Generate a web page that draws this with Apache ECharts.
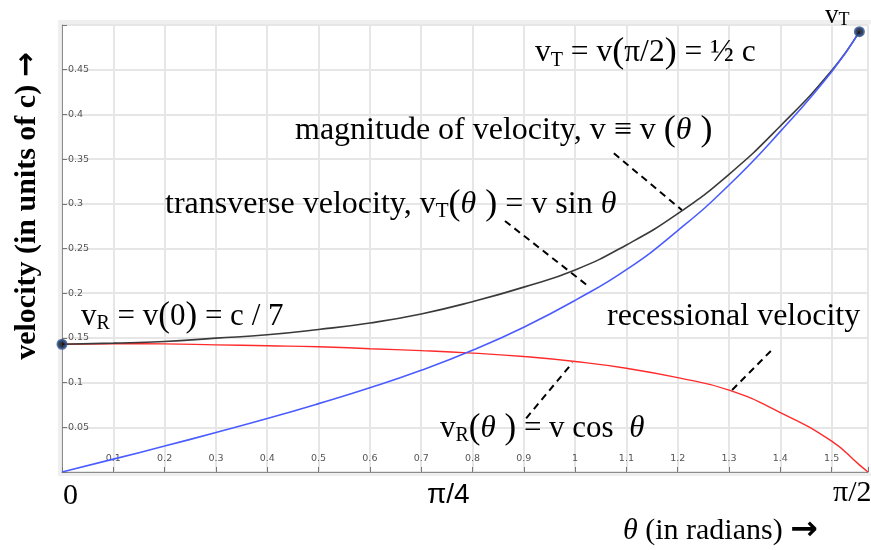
<!DOCTYPE html>
<html>
<head>
<meta charset="utf-8">
<script src="https://cdn.jsdelivr.net/npm/echarts@6/dist/echarts.min.js"></script>
<style>
html, body { margin: 0; padding: 0; background: #fff; }
#chart { width: 871px; height: 550px; }
</style>
</head>
<body>
<div id="chart"></div>
<script>
// Angle θ (radians) at which the three velocity curves are sampled
const theta = [0, 0.1, 0.2, 0.3, 0.4, 0.5, 0.6, 0.7, 0.8, 0.9, 1.0, 1.1, 1.2, 1.3, 1.4, 1.5, 1.554];
// Magnitude of velocity v(θ), in units of c
const speed = [0.1429, 0.1441, 0.1460, 0.1497, 0.1535, 0.1594, 0.1667, 0.1768, 0.1905, 0.2068, 0.2260, 0.2540, 0.2890, 0.3330, 0.3870, 0.4490, 0.4925];
// Transverse velocity vT(θ) = v sin θ
const transverse = [0, 0.0144, 0.0290, 0.0442, 0.0598, 0.0765, 0.0942, 0.1138, 0.1362, 0.1620, 0.1920, 0.2263, 0.2700, 0.3210, 0.3810, 0.4478, 0.4923];
// Recessional velocity vR(θ) = v cos θ
const recessional = [0.1429, 0.1434, 0.1433, 0.1422, 0.1412, 0.1401, 0.1379, 0.1358, 0.1330, 0.1292, 0.1236, 0.1160, 0.1055, 0.0915, 0.0665, 0.0345, 0.0080];
// recessional velocity vanishes at θ = π/2
const recessionalEnd = [Math.PI / 2, 0];

// Axis ranges and tick steps
const xRange = [0, Math.PI / 2];
const xStep = 0.1;
const yRange = [0, 0.5];
const yStep = 0.05;

// Dashed pointers from the labels to the curves, in data coordinates
const pointers = [
  [[1.0755, 0.3565], [1.2079, 0.2931]],
  [[0.8633, 0.2808], [1.0279, 0.2069]],
  [[0.9046, 0.0601], [0.9950, 0.1223]],
  [[1.3060, 0.0917], [1.3866, 0.1384]]
];

const SERIF = "'Liberation Serif', 'Times New Roman', 'DejaVu Serif', serif";
const SANS = "'Liberation Sans', Arial, sans-serif";

const pairs = (xs, ys) => xs.map((x, i) => [x, ys[i]]);

const chart = echarts.init(document.getElementById('chart'), null, { renderer: 'canvas' });

function richFor(fs) {
  return {
    s: { fontSize: Math.round(fs * 0.65), fontFamily: SERIF, verticalAlign: 'bottom', fill: '#000' },
    p: { fontSize: Math.round(fs * 1.13), fontFamily: SERIF, fill: '#000' },
    i: { fontSize: fs, fontFamily: SERIF, fontStyle: 'italic', fill: '#000' },
    a: { fontSize: Math.round(fs * 1.1), fontFamily: "'DejaVu Sans', sans-serif", fontWeight: 'bold', fill: '#000' }
  };
}

// text annotation placed by its left edge and baseline
function note(x, baseline, text, size, extra) {
  const fs = size || 32;
  return {
    type: 'text',
    x: x,
    y: baseline - 0.34 * fs,
    silent: true,
    z: 50,
    style: Object.assign({
      text: text,
      fontSize: fs,
      fontFamily: SERIF,
      fill: '#000',
      align: 'left',
      verticalAlign: 'middle',
      rich: richFor(fs)
    }, extra || {})
  };
}

const band = '#efefef';
const curveSmooth = 0.5;

const option = {
  animation: false,
  backgroundColor: '#fff',
  grid: { left: 62, top: 25, width: 811.5, height: 447, containLabel: false },
  xAxis: {
    type: 'value',
    min: xRange[0],
    max: xRange[1],
    interval: xStep,
    axisLine: { show: true, lineStyle: { color: '#8c8c8c', width: 1 } },
    axisTick: { show: true, inside: true, length: 5, lineStyle: { color: '#777', width: 1 } },
    axisLabel: {
      inside: true,
      margin: 8,
      fontSize: 9.5,
      color: '#555',
      fontFamily: "'DejaVu Sans', sans-serif",
      formatter: v => (v < 0.05 || v > 1.55) ? '' : String(+v.toFixed(1))
    },
    splitLine: { show: true, lineStyle: { color: '#e6e6e6', width: 2 } }
  },
  yAxis: {
    type: 'value',
    min: yRange[0],
    max: yRange[1],
    interval: yStep,
    axisLine: { show: true, lineStyle: { color: '#8c8c8c', width: 1 } },
    axisTick: { show: true, inside: true, length: 5, lineStyle: { color: '#777', width: 1 } },
    axisLabel: {
      inside: true,
      margin: 6,
      fontSize: 9.5,
      color: '#555',
      fontFamily: "'DejaVu Sans', sans-serif",
      formatter: v => (v < 0.01 || v > 0.49) ? '' : String(+v.toFixed(2))
    },
    splitLine: { show: true, lineStyle: { color: '#e6e6e6', width: 2 } }
  },
  series: [
    {
      name: 'recessional',
      type: 'line',
      data: pairs(theta, recessional).concat([recessionalEnd]),
      smooth: curveSmooth,
      showSymbol: false,
      lineStyle: { color: '#ff2b2b', width: 1.4 },
      z: 3
    },
    {
      name: 'magnitude',
      type: 'line',
      data: pairs(theta, speed),
      smooth: curveSmooth,
      showSymbol: false,
      lineStyle: { color: '#3a3a3a', width: 1.6 },
      z: 4,
      markLine: {
        silent: true,
        symbol: ['none', 'none'],
        label: { show: false },
        lineStyle: { color: '#000', width: 2, type: [7, 5] },
        data: pointers.map(p => [{ coord: p[0] }, { coord: p[1] }])
      }
    },
    {
      name: 'transverse',
      type: 'line',
      data: pairs(theta, transverse),
      smooth: curveSmooth,
      showSymbol: false,
      lineStyle: { color: '#4b5cff', width: 1.6 },
      z: 5
    },
    {
      name: 'ends',
      type: 'scatter',
      clip: false,
      data: [[theta[0], speed[0]], [theta[theta.length - 1], speed[speed.length - 1]]],
      symbol: 'circle',
      symbolSize: 8,
      itemStyle: { color: '#0a0a0a', borderColor: '#2c4d88', borderWidth: 3 },
      z: 10
    }
  ],
  graphic: [
    // light frame around the plotting area
    { type: 'rect', silent: true, z: -1, shape: { x: 58, y: 20, width: 4, height: 456 }, style: { fill: band } },
    { type: 'rect', silent: true, z: -1, shape: { x: 58, y: 20, width: 813, height: 4.5 }, style: { fill: band } },
    { type: 'rect', silent: true, z: -1, shape: { x: 58, y: 472.5, width: 813, height: 3.5 }, style: { fill: band } },

    note(825, 25, 'v{s|T}', 27),
    note(535, 63, 'v{s|T} = v{p|(}π/2{p|)} = ½ c', 31.5),
    note(295, 141, 'magnitude of velocity, v ≡ v {p|(}{i|θ}{p| )}', 32),
    note(165, 215, 'transverse velocity, v{s|T}{p|(}{i|θ}{p| )} = v sin {i|θ}', 32),
    note(81, 327, 'v{s|R} = v{p|(}0{p|)} = c / 7', 31),
    note(607, 327, 'recessional velocity', 32),
    note(440, 439, 'v{s|R}{p|(}{i|θ}{p| )} = v cos  {i|θ}', 31),

    note(63, 506, '0', 30),
    note(427, 505, 'π/4', 28, { fontFamily: SANS }),
    note(833, 503, 'π/2', 30),
    note(623, 541, '{i|θ} (in radians) {a|→}', 30),

    {
      type: 'text',
      x: 27,
      y: 206,
      rotation: Math.PI / 2,
      silent: true,
      z: 50,
      style: {
        text: 'velocity (in units of c) {a|→}',
        fontSize: 30,
        fontWeight: 'bold',
        fontFamily: SERIF,
        fill: '#000',
        align: 'center',
        verticalAlign: 'middle',
        rich: {
          a: { fontSize: 30, fontFamily: "'DejaVu Sans', sans-serif", fontWeight: 'bold', fill: '#000' }
        }
      }
    }
  ]
};

chart.setOption(option);
</script>
</body>
</html>
